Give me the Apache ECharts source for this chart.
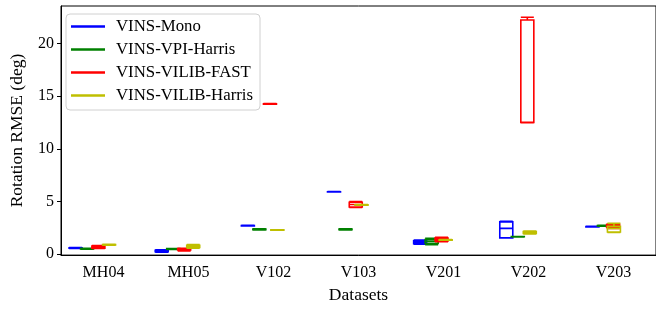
<!DOCTYPE html>
<html>
<head>
<meta charset="utf-8">
<script src="https://cdn.jsdelivr.net/npm/echarts@6/dist/echarts.min.js"></script>
<style>
  html, body { margin: 0; padding: 0; background: #fff; }
  #chart { width: 656px; height: 309px; }
</style>
</head>
<body>
<div id="chart"></div>
<script>
// categories and series
const categories = ['MH04', 'MH05', 'V102', 'V103', 'V201', 'V202', 'V203'];
const seriesNames = ['VINS-Mono', 'VINS-VPI-Harris', 'VINS-VILIB-FAST', 'VINS-VILIB-Harris'];

// box values per dataset: [min, Q1, median, Q3, max]
const vinsMono = [
  [1.25, 1.27, 1.29, 1.31, 1.33],
  [0.90, 0.95, 1.00, 1.08, 1.12],
  [3.31, 3.32, 3.34, 3.36, 3.37],
  [6.44, 6.45, 6.46, 6.47, 6.48],
  [1.63, 1.68, 1.80, 1.95, 2.03],
  [2.21, 2.22, 3.10, 3.70, 3.75],
  [3.22, 3.23, 3.25, 3.27, 3.28]
];
const vinsVpiHarris = [
  [1.19, 1.21, 1.23, 1.25, 1.27],
  [1.15, 1.17, 1.20, 1.23, 1.25],
  [2.96, 2.98, 3.01, 3.04, 3.06],
  [2.96, 2.98, 3.01, 3.04, 3.06],
  [1.59, 1.70, 1.90, 2.08, 2.18],
  [2.31, 2.32, 2.33, 2.34, 2.35],
  [3.30, 3.32, 3.34, 3.36, 3.38]
];
const vinsVilibFast = [
  [1.24, 1.28, 1.40, 1.48, 1.52],
  [1.02, 1.10, 1.18, 1.24, 1.27],
  [14.52, 14.53, 14.55, 14.57, 14.58],
  [5.02, 5.06, 5.30, 5.50, 5.56],
  [1.87, 1.93, 2.05, 2.20, 2.27],
  [12.83, 12.84, 12.86, 22.28, 22.53],
  [3.10, 3.20, 3.38, 3.46, 3.50]
];
const vinsVilibHarris = [
  [1.56, 1.58, 1.60, 1.62, 1.64],
  [1.28, 1.35, 1.45, 1.55, 1.60],
  [2.93, 2.94, 2.95, 2.96, 2.97],
  [5.22, 5.23, 5.25, 5.27, 5.28],
  [2.00, 2.01, 2.03, 2.05, 2.06],
  [2.58, 2.62, 2.70, 2.80, 2.85],
  [2.73, 2.76, 3.10, 3.30, 3.56]
];
const seriesData = [vinsMono, vinsVpiHarris, vinsVilibFast, vinsVilibHarris];
const seriesColors = ['#0000ff', '#008000', '#ff0000', '#bfbf00'];

// layout
const FONT = 'Liberation Serif';
const Y_MIN = -0.09, Y_MAX = 23.57;
const G_LEFT = 58, G_RIGHT = -5, G_TOP = 6, G_BOTTOM = 46;
const boxOffsets = [-25.5, -14, -2.5, 9];

const chart = echarts.init(document.getElementById('chart'), null, { renderer: 'canvas' });

const grids = [{ left: G_LEFT, right: G_RIGHT, top: G_TOP, bottom: G_BOTTOM,
  show: true, borderColor: '#000', borderWidth: 1, backgroundColor: 'transparent' }];
const xAxes = [{
  type: 'category', gridIndex: 0, data: categories,
  name: 'Datasets', nameLocation: 'middle', nameGap: 30,
  nameTextStyle: { fontFamily: FONT, fontSize: 17.5, color: '#000' },
  axisLine: { onZero: false, lineStyle: { color: '#000', width: 1 } },
  axisTick: { alignWithLabel: true, length: 4, lineStyle: { color: '#000' } },
  axisLabel: { fontFamily: FONT, fontSize: 16, color: '#000', margin: 10 },
  splitLine: { show: false }
}];
const yAxes = [{
  type: 'value', gridIndex: 0, min: Y_MIN, max: Y_MAX, splitNumber: 5,
  name: 'Rotation RMSE (deg)', nameLocation: 'middle', nameGap: 35,
  nameTextStyle: { fontFamily: FONT, fontSize: 17.5, color: '#000' },
  axisLine: { show: true, onZero: false, lineStyle: { color: '#000', width: 1 } },
  axisTick: { show: true, length: 4, lineStyle: { color: '#000' } },
  axisLabel: { fontFamily: FONT, fontSize: 16, color: '#000', margin: 7, padding: [5, 0, 0, 0],
    showMinLabel: false, showMaxLabel: false },
  splitLine: { show: false }
}];

const series = [];
seriesNames.forEach((name, i) => {
  const gi = i + 1;
  grids.push({ left: G_LEFT + boxOffsets[i], right: G_RIGHT - boxOffsets[i], top: G_TOP, bottom: G_BOTTOM });
  xAxes.push({ type: 'category', gridIndex: gi, data: categories, show: false });
  yAxes.push({ type: 'value', gridIndex: gi, min: Y_MIN, max: Y_MAX, show: false, splitLine: { show: false } });
  series.push({
    name: name,
    type: 'boxplot',
    xAxisIndex: gi,
    yAxisIndex: gi,
    boxWidth: [13, 13],
    itemStyle: { color: 'rgba(0,0,0,0)', borderColor: seriesColors[i], borderWidth: 1.6 },
    emphasis: { disabled: true },
    data: seriesData[i]
  });
});

const option = {
  animation: false,
  backgroundColor: '#fff',
  grid: grids,
  xAxis: xAxes,
  yAxis: yAxes,
  legend: {
    orient: 'vertical',
    left: 66,
    top: 14,
    icon: 'rect',
    itemWidth: 34,
    itemHeight: 2.5,
    itemGap: 6,
    padding: [4, 7, 6, 5],
    borderColor: '#d0d0d0',
    borderWidth: 1,
    borderRadius: 4,
    backgroundColor: 'rgba(255,255,255,0.8)',
    textStyle: { fontFamily: FONT, fontSize: 16.8, color: '#000', lineHeight: 16.5, padding: [0, 0, 0, 6] },
    data: seriesNames.map((n, i) => ({ name: n, itemStyle: { color: seriesColors[i], borderWidth: 0 } }))
  },
  series: series
};

chart.setOption(option);
</script>
</body>
</html>
